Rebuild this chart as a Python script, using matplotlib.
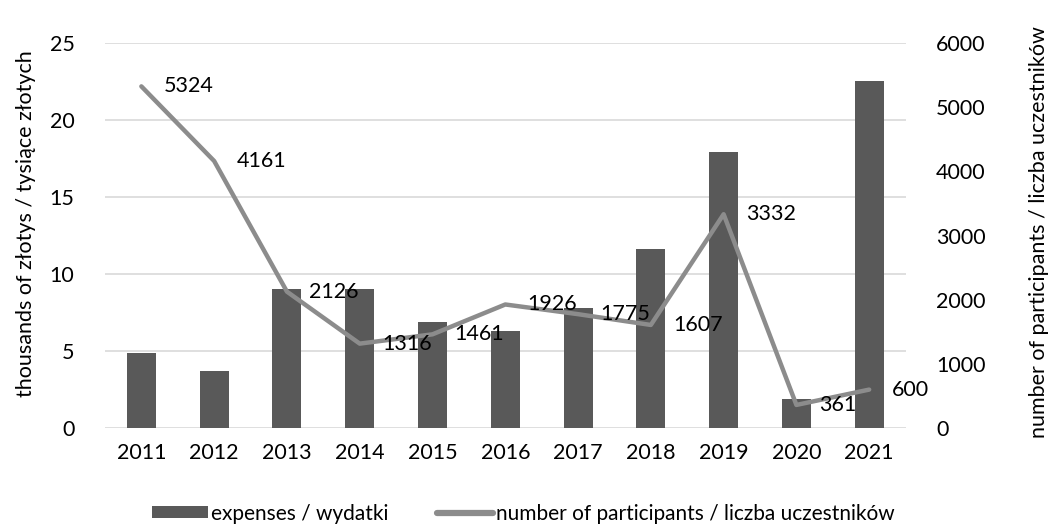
import matplotlib.pyplot as plt
import numpy as np

plt.rcParams['font.family'] = ['Lato', 'DejaVu Sans']

years = ["2011", "2012", "2013", "2014", "2015", "2016", "2017", "2018", "2019", "2020", "2021"]
expenses = [4.9, 3.7, 9.0, 9.0, 6.9, 6.3, 7.8, 11.6, 17.9, 1.9, 22.5]
participants = [5324, 4161, 2126, 1316, 1461, 1926, 1775, 1607, 3332, 361, 600]

bar_color = "#595959"
line_color = "#8c8c8c"
grid_color = "#d9d9d9"
fs = 15.5

fig = plt.figure(figsize=(10.53, 5.24), dpi=100)
ax = fig.add_axes([0.0997, 0.183, 0.7603, 0.735])
x = np.arange(len(years))

bars = ax.bar(x, expenses, width=0.4, color=bar_color, zorder=2, label="expenses / wydatki")
ax.set_ylim(0, 25)
ax.set_yticks(range(0, 26, 5))
ax.set_xlim(-0.5, len(years) - 0.5)
ax.set_xticks(x)
ax.set_xticklabels(years)
ax.grid(axis='y', color=grid_color, linewidth=1.2, zorder=0)
ax.set_axisbelow(True)
ax.set_ylabel("thousands of złotys / tysiące złotych", fontsize=fs)
ax.yaxis.set_label_coords(-0.086, 0.53)

ax2 = ax.twinx()
line, = ax2.plot(x, participants, color=line_color, linewidth=3.2, solid_capstyle='round',
                 label="number of participants / liczba uczestników", zorder=3)
ax2.set_ylim(0, 6000)
ax2.set_yticks(range(0, 6001, 1000))
ax2.set_ylabel("number of participants / liczba uczestników", fontsize=fs)
ax2.yaxis.set_label_coords(1.154, 0.51)

for xi, v in zip(x, participants):
    ax2.annotate(str(v), (xi, v), xytext=(16, 0), textcoords='offset points',
                 ha='left', va='center', fontsize=fs, color='black')

for a in (ax, ax2):
    for s in a.spines.values():
        s.set_visible(False)
    a.tick_params(length=0, labelsize=fs, colors='black')
ax.tick_params(axis='x', pad=11)
ax.tick_params(axis='y', pad=22)
ax2.tick_params(axis='y', pad=22)

leg = fig.legend([bars, line], [bars.get_label(), line.get_label()], loc='lower center',
                 bbox_to_anchor=(0.497, -0.035), ncol=2, frameon=False, fontsize=15,
                 handlelength=2.7, handleheight=0.55, handletextpad=0.15, columnspacing=2.3)
leg.get_lines()[0].set_linewidth(4.5)

plt.savefig("out.png", dpi=100)
